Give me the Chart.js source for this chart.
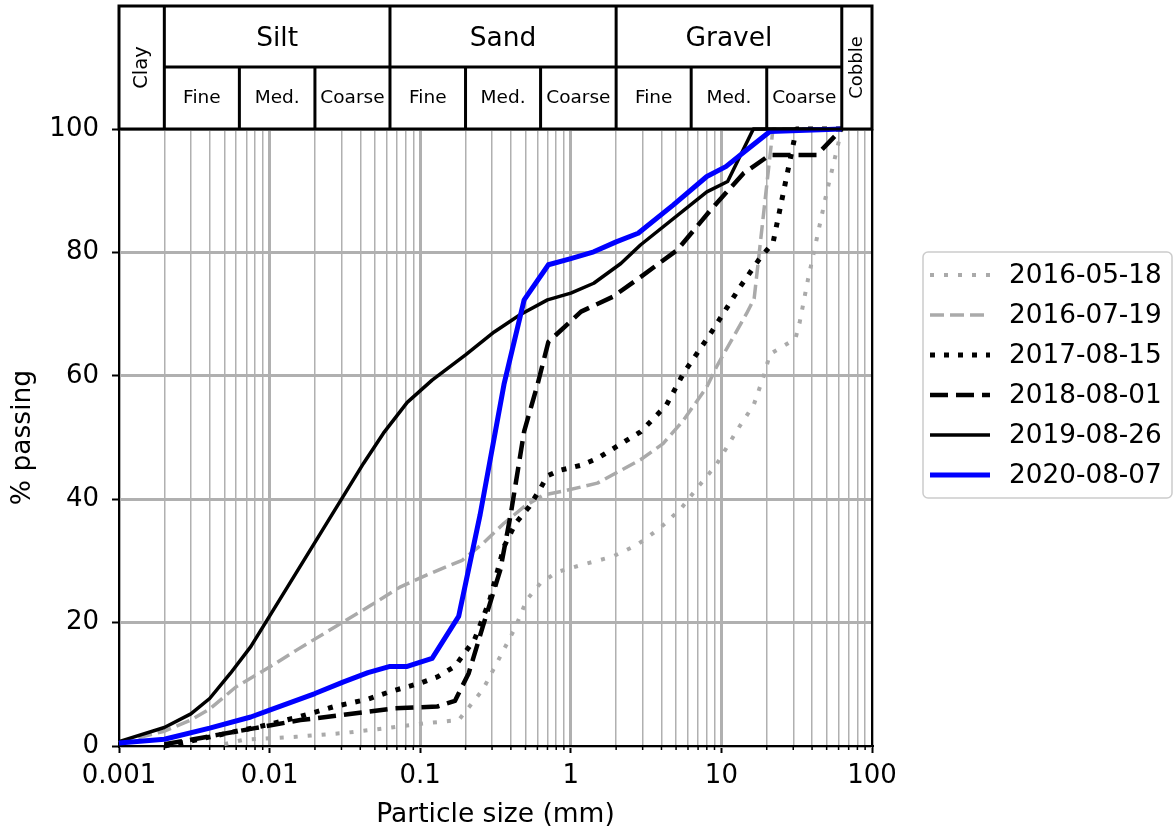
<!DOCTYPE html>
<html>
<head>
<meta charset="utf-8">
<title>Grain size distribution</title>
<script src="https://cdn.jsdelivr.net/npm/chart.js@4.4.1/dist/chart.umd.min.js"></script>
<style>
  html, body { margin: 0; padding: 0; background: #fff; }
</style>
</head>
<body>
<canvas id="gsdChart" width="1174" height="834"></canvas>
<script>
const FONT = '"DejaVu Sans", "Liberation Sans", sans-serif';

// sample dates shown in the legend
const sampleDates = ['2016-05-18', '2016-07-19', '2017-08-15', '2018-08-01', '2019-08-26', '2020-08-07'];

// particle size (mm) / % passing
const size1605 = [0.005, 0.0067, 0.015, 0.031, 0.06, 0.11, 0.18, 0.2, 0.26, 0.34, 0.43, 0.51, 0.63, 0.81, 1.2, 1.9, 2.75, 3.9, 5.4, 7, 9.2, 12.8, 16.4, 19, 21, 31, 33, 37.5, 50, 63];
const pass1605 = [0.3, 1, 1.5, 2.1, 2.9, 3.7, 4.2, 5.6, 9.1, 14.5, 19.3, 23.7, 26.4, 28.2, 29.4, 30.7, 32.6, 35.3, 38.5, 42, 45.5, 51.3, 55.3, 59.8, 63.5, 66, 68.5, 75.5, 89.7, 100];

const size1607 = [0.001, 0.002, 0.003, 0.004, 0.006, 0.01, 0.015, 0.028, 0.047, 0.074, 0.11, 0.19, 0.26, 0.36, 0.49, 0.66, 0.89, 1.5, 2.9, 4.1, 5.6, 8, 9.3, 14.7, 16.5, 22, 63];
const pass1607 = [0.5, 2.4, 4.2, 6, 9.6, 12.8, 15.5, 19.5, 22.8, 25.8, 27.7, 30.1, 32.8, 36.1, 38.8, 40.7, 41.3, 42.6, 46.4, 49, 52.8, 58.2, 61.5, 70.1, 72.5, 100, 100];

const size1708 = [0.002, 0.003, 0.0058, 0.01, 0.016, 0.027, 0.045, 0.063, 0.1, 0.13, 0.17, 0.23, 0.29, 0.36, 0.43, 0.53, 0.62, 0.7, 0.85, 1.17, 1.5, 2.3, 2.9, 4.3, 5.6, 8.5, 13.3, 18.3, 22, 31.5, 63];
const pass1708 = [0, 0.8, 2.3, 3.5, 4.8, 6.4, 7.6, 8.8, 10.2, 11.2, 12.9, 17.3, 23.7, 32.3, 36.1, 38.8, 41.5, 43.8, 44.7, 45.5, 46.6, 49.4, 50.9, 55.2, 60.4, 66.9, 74.4, 79.3, 81.5, 100, 100];

const size1808 = [0.002, 0.003, 0.0045, 0.008, 0.016, 0.03, 0.067, 0.13, 0.17, 0.21, 0.26, 0.34, 0.4, 0.49, 0.6, 0.71, 1.17, 1.9, 2.9, 5.1, 8.5, 14, 21, 43, 63];
const pass1808 = [0.3, 1, 1.8, 2.9, 4.2, 5.0, 6.1, 6.4, 7.3, 11.8, 19.3, 28.5, 37.7, 51, 58.5, 65.5, 70.4, 72.8, 76, 80.4, 86.9, 92.8, 95.8, 95.8, 100];

const size1908 = [0.001, 0.002, 0.003, 0.004, 0.0055, 0.0075, 0.02, 0.042, 0.057, 0.082, 0.12, 0.2, 0.31, 0.46, 0.7, 1.0, 1.42, 2.15, 2.9, 8, 11, 16.3, 63];
const pass1908 = [0.7, 3.0, 5.2, 7.7, 11.8, 16.1, 33, 45.8, 50.7, 55.7, 59.3, 63.4, 67.1, 69.9, 72.3, 73.4, 75.0, 78.2, 81.2, 89.8, 91.5, 100, 100];

const size2008 = [0.001, 0.002, 0.004, 0.0075, 0.01, 0.02, 0.031, 0.045, 0.063, 0.082, 0.12, 0.18, 0.25, 0.36, 0.49, 0.71, 1.0, 1.42, 2.0, 2.8, 4.8, 8, 10.7, 14.7, 21, 63];
const pass2008 = [0.5, 1.1, 2.9, 4.7, 5.8, 8.5, 10.4, 11.9, 12.9, 12.9, 14.2, 21, 37.5, 58.6, 72.3, 78, 79, 80.1, 81.7, 83.1, 87.7, 92.3, 93.9, 96.6, 99.6, 100];

// axis ticks
const decades = [0.001, 0.01, 0.1, 1, 10, 100];
const xTickLabels = ['0.001', '0.01', '0.1', '1', '10', '100'];
const yTicks = [0, 20, 40, 60, 80, 100];

// soil classification limits (mm)
const classNames = ['Silt', 'Sand', 'Gravel'];
const classLimits = [0.002, 0.063, 2, 63];
const subNames = ['Fine', 'Med.', 'Coarse'];
const subLimits = [[0.0063, 0.02], [0.2, 0.63], [6.3, 20]];

const pts = (xs, ys) => xs.map((x, i) => ({ x: x, y: ys[i] }));

// minor grid positions 1..9 x decade
const gridValues = [];
decades.forEach(d => {
  for (let m = 1; m <= 9; m++) {
    const v = Number((m * d).toPrecision(6));
    if (v <= 100) gridValues.push(v);
  }
});
const isDecade = v => Math.abs(Math.log10(v) - Math.round(Math.log10(v))) < 1e-9;

// header with clay / silt / sand / gravel / cobble boxes
const soilHeader = {
  id: 'soilHeader',
  afterDraw(chart) {
    const { ctx, chartArea } = chart;
    const { left, right, top, bottom } = chartArea;
    const xs = chart.scales.x;
    const y0 = 6, yMid = 67;
    const px = classLimits.map(v => xs.getPixelForValue(v));

    ctx.save();
    ctx.strokeStyle = '#000';
    ctx.lineWidth = 3;
    ctx.strokeRect(left, y0, right - left, top - y0);
    ctx.beginPath();
    ctx.moveTo(px[0], yMid);
    ctx.lineTo(px[3], yMid);
    px.forEach(p => { ctx.moveTo(p, y0); ctx.lineTo(p, top); });
    subLimits.flat().forEach(v => {
      const p = xs.getPixelForValue(v);
      ctx.moveTo(p, yMid);
      ctx.lineTo(p, top);
    });
    ctx.stroke();

    // right spine
    ctx.lineWidth = 2;
    ctx.beginPath();
    ctx.moveTo(right, top);
    ctx.lineTo(right, bottom);
    ctx.stroke();

    // minor ticks on the x axis
    ctx.lineWidth = 1.5;
    ctx.beginPath();
    gridValues.filter(v => !isDecade(v)).forEach(v => {
      const p = xs.getPixelForValue(v);
      ctx.moveTo(p, bottom);
      ctx.lineTo(p, bottom + 4);
    });
    ctx.stroke();

    ctx.fillStyle = '#000';
    ctx.textAlign = 'center';
    ctx.textBaseline = 'middle';
    ctx.font = '26.5px ' + FONT;
    classNames.forEach((n, i) => {
      ctx.fillText(n, (px[i] + px[i + 1]) / 2, (y0 + yMid) / 2 + 3);
    });
    ctx.font = '18.5px ' + FONT;
    classNames.forEach((n, i) => {
      const b = [px[i], ...subLimits[i].map(v => xs.getPixelForValue(v)), px[i + 1]];
      subNames.forEach((s, j) => {
        ctx.fillText(s, (b[j] + b[j + 1]) / 2, (yMid + top) / 2);
      });
    });
    [['Clay', (left + px[0]) / 2, 19.5], ['Cobble', (px[3] + right) / 2, 18]].forEach(([t, cx, fs]) => {
      ctx.save();
      ctx.font = fs + 'px ' + FONT;
      ctx.translate(cx, (y0 + top) / 2);
      ctx.rotate(-Math.PI / 2);
      ctx.fillText(t, 0, 0);
      ctx.restore();
    });
    ctx.restore();
  }
};

// boxed legend to the right
const sideLegend = {
  id: 'sideLegend',
  afterDraw(chart) {
    const ctx = chart.ctx;
    const bx = 923, by = 252, bw = 249, bh = 246;
    ctx.save();
    ctx.fillStyle = '#fff';
    ctx.strokeStyle = '#cccccc';
    ctx.lineWidth = 1.5;
    ctx.beginPath();
    ctx.roundRect(bx, by, bw, bh, 5);
    ctx.fill();
    ctx.stroke();
    chart.data.datasets.forEach((ds, i) => {
      const yy = by + 23 + i * 40;
      ctx.setLineDash(ds.borderDash || []);
      ctx.strokeStyle = ds.borderColor;
      ctx.lineWidth = ds.borderWidth;
      ctx.lineCap = 'butt';
      ctx.beginPath();
      ctx.moveTo(bx + 7, yy);
      ctx.lineTo(bx + 67, yy);
      ctx.stroke();
      ctx.setLineDash([]);
      ctx.fillStyle = '#000';
      ctx.font = '26.3px ' + FONT;
      ctx.textBaseline = 'middle';
      ctx.textAlign = 'left';
      ctx.fillText(ds.label, bx + 86, yy + 1);
    });
    ctx.restore();
  }
};

const line = (i, xs, ys, color, width, dash) => ({
  label: sampleDates[i],
  data: pts(xs, ys),
  borderColor: color,
  borderWidth: width,
  borderDash: dash,
  borderCapStyle: 'butt',
  borderJoinStyle: 'round',
  pointRadius: 0,
  fill: false,
  tension: 0,
  clip: false,
  order: 5 - i
});

const ctx = document.getElementById('gsdChart').getContext('2d');
const gsdChart = new Chart(ctx, {
  type: 'line',
  data: {
    datasets: [
      line(0, size1605, pass1605, '#aaaaaa', 4, [4, 10]),
      line(1, size1607, pass1607, '#aaaaaa', 3.5, [14, 6]),
      line(2, size1708, pass1708, '#000000', 5, [5, 9]),
      line(3, size1808, pass1808, '#000000', 4.5, [18, 8]),
      line(4, size1908, pass1908, '#000000', 3.5, []),
      line(5, size2008, pass2008, '#0000ff', 5, [])
    ]
  },
  options: {
    responsive: false,
    animation: false,
    layout: { padding: { top: 129, right: 302, left: 0, bottom: 0 } },
    plugins: {
      legend: { display: false },
      tooltip: { enabled: false }
    },
    scales: {
      x: {
        type: 'logarithmic',
        min: 0.001,
        max: 100,
        afterBuildTicks: scale => {
          scale.ticks = gridValues.map(v => ({ value: v, major: isDecade(v) }));
        },
        afterFit: scale => { scale.height = 88; },
        grid: {
          color: '#b0b0b0',
          lineWidth: c => (c.tick && isDecade(c.tick.value) ? 3 : 1.5),
          tickLength: 7,
          tickWidth: 2,
          tickColor: c => (c.tick && isDecade(c.tick.value) ? '#000' : 'rgba(0,0,0,0)')
        },
        border: { display: true, color: '#000', width: 2 },
        ticks: {
          autoSkip: false,
          maxRotation: 0,
          padding: 8,
          color: '#000',
          font: { family: FONT, size: 26 },
          callback: value => {
            const i = decades.findIndex(d => Math.abs(d - value) / d < 1e-6);
            return i >= 0 ? xTickLabels[i] : '';
          }
        },
        title: {
          display: true,
          text: 'Particle size (mm)',
          color: '#000',
          font: { family: FONT, size: 26.5 },
          padding: { top: 0, bottom: 3 }
        }
      },
      y: {
        min: 0,
        max: 100,
        afterBuildTicks: scale => {
          scale.ticks = yTicks.map(v => ({ value: v }));
        },
        afterFit: scale => { scale.width = 119; },
        grid: {
          color: '#b0b0b0',
          lineWidth: 3,
          tickLength: 7,
          tickWidth: 2,
          tickColor: '#000'
        },
        border: { display: true, color: '#000', width: 2 },
        ticks: {
          padding: 13,
          color: '#000',
          font: { family: FONT, size: 26 }
        },
        title: {
          display: true,
          text: '% passing',
          color: '#000',
          font: { family: FONT, size: 26.5 },
          padding: { top: 7, bottom: 0 }
        }
      }
    }
  },
  plugins: [soilHeader, sideLegend]
});
</script>
</body>
</html>
